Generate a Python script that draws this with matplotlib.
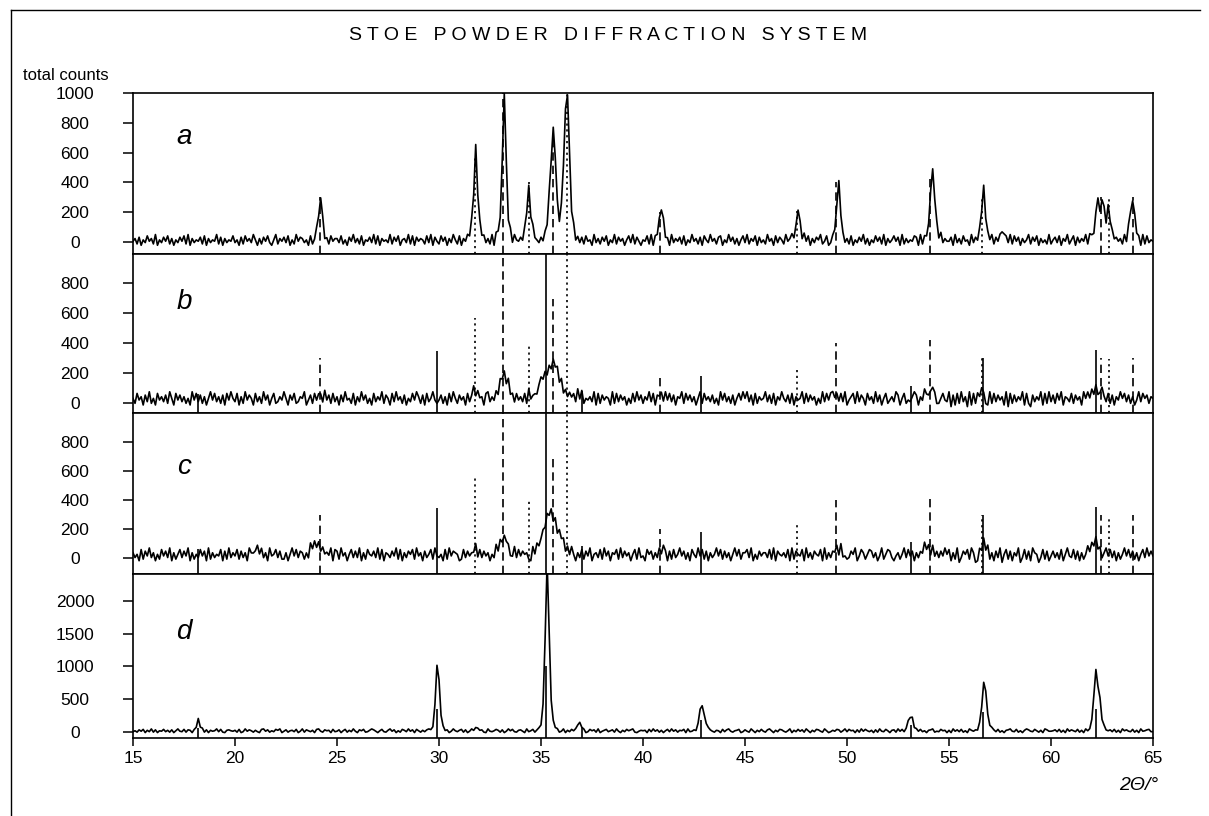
import numpy as np
import matplotlib
matplotlib.use('Agg')
import matplotlib.pyplot as plt
from matplotlib.lines import Line2D

plt.rcParams['font.family'] = ['Liberation Sans', 'DejaVu Sans']

# scan grid: 2theta from 15 to 65 deg in 0.1 deg steps
tt_start = 15.0
tt_step = 0.1
n_points = 501

# background noise, one digit per step (0..9 around 4.5)
noise_a = ("46271538462915374826153748291635472816354927163548"
           "35172846395162748315926473815294763518249637152846"
           "63825174936281547392816453927481563928174652839174"
           "28471639528164739251847362918547362819547263819453"
           "71538294617352849163728451936274815392746158392741"
           "54829163748251936472815394627185394627815394726158"
           "39264817352946183752946813572948163759248136597241"
           "62815374926153847291635847192635487192634581729364"
           "47193628451937264815392746158392847163592748163529"
           "25738164925817364928517346928153746291853746192835"
           "4")
noise_b = ("52846173925184637295184736251948372615948362718495"
           "38162947518362947158236495174823659147283651947283"
           "61739452816394725183649275183946271538496271835942"
           "47261839527461835927461893526174839251746382915647"
           "83516274938152647391825463918274651928374615283947"
           "26493817562948371659284736159284637251948362715849"
           "59371826459372816495372816459283746152938476152839"
           "14682937518462937158246397158243697152843697125843"
           "90718293609182736501928374619082736491820736491829"
           "37284916538274619583726149538271649583726149385726"
           "5")
noise_c = ("63518274936152847391625837491625384719263548172936"
           "48273619545837261945837226159483762519483726354918"
           "72946158373916285473928165374928163758294617358294"
           "35182947651283746592837461529384756129384756219384"
           "56274938164827395163827491563829471658293746158293"
           "41857263948617283594726185394827163594827361594826"
           "68391527466382917546381927548193627548192637581924"
           "23759148625873614925873146259384716253947182637495"
           "81629037582960173849261739058271649038271965038271"
           "47362815943827162594837261594837162594837261583947"
           "4")
noise_d = ("35274816392715483627159438276154938271645938216754"
           "62813947526318947253869147256381492753618942756183"
           "47158263941758236974158326947152863947185263794125"
           "83627149536827149358672194358627149583267419358276"
           "29416385724916385792461385729146835729416385792146"
           "56183947261583947265819347265138974265183794256813"
           "74295163842795163874259163847295163874295136487259"
           "38561729485361729438516729483561927483516792438561"
           "61947382519647382561497382516794382516974385261974"
           "45738261947538261954783261945738261957438261945783"
           "3")

# peak counts above background: (start angle, counts at successive 0.1 deg steps)
peaks_a = [
    (23.9, [15, 50, 150, 300, 140, 45, 15]),
    (31.4, [20, 45, 110, 330, 640, 340, 110, 40, 15]),
    (32.8, [25, 60, 160, 520, 1000, 520, 160, 55, 20]),
    (34.1, [25, 80, 200, 340, 190, 70, 25]),
    (35.1, [30, 60, 120, 300, 560, 720, 560, 260, 160, 230, 520, 880, 1000,
            560, 200, 80, 35, 15]),
    (40.6, [20, 55, 130, 210, 120, 45, 15]),
    (47.3, [15, 50, 120, 200, 110, 35, 10]),
    (49.3, [25, 70, 200, 380, 190, 60, 20]),
    (53.8, [20, 45, 120, 330, 450, 310, 110, 40, 15]),
    (56.4, [25, 75, 200, 340, 180, 60, 20]),
    (57.5, [30, 90, 40]),
    (61.9, [15, 35, 80, 170, 300, 200, 260, 190, 140, 210, 160, 70, 25]),
    (63.7, [25, 80, 190, 280, 160, 55, 20]),
]
peaks_b = [
    (24.0, [10, 20, 30, 20, 10]),
    (31.6, [20, 40, 50, 30, 15]),
    (32.6, [10, 20, 40, 70, 110, 140, 150, 120, 90, 60, 35, 20, 10]),
    (34.4, [20, 40, 20]),
    (34.7, [20, 40, 70, 110, 150, 180, 200, 210, 230, 240, 220, 170, 130, 100,
            80, 60, 45, 30, 20, 10]),
    (36.8, [20, 40, 20]),
    (40.8, [15, 30, 15]),
    (49.2, [15, 35, 50, 35, 15]),
    (53.6, [10, 20, 30, 40, 45, 40, 30, 20, 10]),
    (56.4, [15, 35, 60, 40, 20]),
    (61.8, [10, 25, 40, 60, 80, 70, 50, 30, 15]),
]
peaks_c = [
    (20.8, [10, 20, 25, 30, 25, 20, 10]),
    (23.5, [10, 20, 35, 50, 60, 70, 65, 55, 40, 25, 15, 5]),
    (31.7, [15, 30, 15]),
    (32.7, [10, 25, 45, 70, 95, 110, 90, 60, 35, 20, 10]),
    (34.6, [10, 25, 45, 70, 110, 160, 220, 260, 280, 270, 250, 220, 190, 160,
            120, 80, 55, 35, 20, 10]),
    (40.9, [15, 30, 15]),
    (49.4, [15, 30, 40, 30, 15]),
    (53.5, [10, 20, 30, 40, 45, 45, 40, 30, 20, 10]),
    (56.5, [20, 50, 80, 40, 20]),
    (61.8, [15, 30, 50, 80, 100, 70, 40, 20, 10]),
]
peaks_d = [
    (18.0, [20, 60, 160, 70, 20]),
    (29.6, [25, 90, 420, 1000, 760, 250, 70, 25]),
    (31.7, [20, 50, 20]),
    (34.9, [40, 110, 380, 1400, 2600, 1500, 480, 140, 50, 20]),
    (36.7, [20, 60, 150, 60, 20]),
    (42.6, [25, 110, 330, 410, 260, 90, 25]),
    (52.9, [40, 150, 230, 180, 70, 20]),
    (56.4, [25, 110, 380, 740, 600, 280, 90, 25]),
    (61.9, [40, 160, 520, 950, 700, 500, 200, 60, 20]),
]

# reference line patterns (2theta, counts)
hematite_pos = [24.15, 33.15, 35.6, 40.85, 49.45, 54.05, 62.45, 64.0]
hematite_int = [300, 1000, 690, 200, 400, 420, 300, 300]
zno_pos = [31.77, 34.42, 36.25, 47.54, 56.6, 62.86]
zno_int = [565, 400, 1000, 230, 300, 290]
spinel_pos = [18.2, 29.92, 35.26, 37.0, 42.84, 53.14, 56.66, 62.22]
spinel_int = [60, 345, 1000, 80, 180, 110, 300, 350]


def build_trace(noise, base, amp, peaks):
    assert len(noise) == n_points
    y = base + (np.array([int(c) for c in noise], dtype=float) - 4.5) * amp
    for start, vals in peaks:
        i0 = int(round((start - tt_start) / tt_step))
        y[i0:i0 + len(vals)] += vals
    return y


two_theta = tt_start + tt_step * np.arange(n_points)

panels = [
    dict(label='a', y=build_trace(noise_a, 10, 9, peaks_a), ylim=(-80, 1000),
         yticks=[0, 200, 400, 600, 800, 1000], sticks=['hem', 'zno'],
         rect=[0.1100, 0.68873, 0.8437, 0.19730], ly=0.727),
    dict(label='b', y=build_trace(noise_b, 25, 11, peaks_b), ylim=(-67, 993),
         yticks=[0, 200, 400, 600, 800], sticks=['hem', 'zno', 'sp'],
         rect=[0.1100, 0.49387, 0.8437, 0.19485], ly=0.698),
    dict(label='c', y=build_trace(noise_c, 20, 11, peaks_c), ylim=(-110, 1000),
         yticks=[0, 200, 400, 600, 800], sticks=['hem', 'zno', 'sp'],
         rect=[0.1100, 0.29657, 0.8437, 0.19730], ly=0.665),
    dict(label='d', y=build_trace(noise_d, 15, 7, peaks_d), ylim=(-92, 2412),
         yticks=[0, 500, 1000, 1500, 2000], sticks=['sp'],
         rect=[0.1100, 0.09559, 0.8437, 0.20098], ly=0.646),
]

stick_sets = {
    'hem': (hematite_pos, hematite_int, (0, (5, 3))),
    'zno': (zno_pos, zno_int, (0, (1.3, 2.2))),
    'sp': (spinel_pos, spinel_int, 'solid'),
}

fig = plt.figure(figsize=(12.09, 8.16), dpi=100)

for i, p in enumerate(panels):
    ax = fig.add_axes(p['rect'])
    ax.set_xlim(15, 65)
    ax.set_ylim(*p['ylim'])
    for key in p['sticks']:
        pos, ints, ls = stick_sets[key]
        ax.vlines(pos, p['ylim'][0], ints, colors='black', linestyles=ls,
                  linewidth=1.2, zorder=2)
    ax.plot(two_theta, p['y'], color='black', lw=1.2, zorder=3)

    for s in ax.spines.values():
        s.set_linewidth(1.2)
    ax.set_yticks(p['yticks'])
    ax.tick_params(axis='y', direction='out', length=7.2, width=1.1,
                   pad=34.6, labelsize=12.5)
    for t in ax.get_yticklabels():
        t.set_horizontalalignment('center')

    if i == len(panels) - 1:
        ax.set_xticks(range(15, 66, 5))
        ax.tick_params(axis='x', direction='out', length=5.5, width=1.1,
                       pad=3.6, labelsize=12.5)
    else:
        ax.tick_params(axis='x', bottom=False, labelbottom=False)

    ax.text(0.05, p['ly'], p['label'], transform=ax.transAxes, fontsize=20,
            style='italic', ha='center', va='center')

title = '   '.join(' '.join(w) for w in 'STOE POWDER DIFFRACTION SYSTEM'.split())
fig.text(608 / 1209, 1 - 36 / 816, title, ha='center', va='center', fontsize=14)
fig.text(66 / 1209, 1 - 75 / 816, 'total counts', ha='center', va='center',
         fontsize=12)
fig.text(1139 / 1209, 1 - 786 / 816, '2Θ/°', ha='center', va='center',
         fontsize=14, style='italic')

# scanned page frame
fig.add_artist(Line2D([11 / 1209, 11 / 1209], [0, 1 - 10 / 816], color='black', lw=1.0))
fig.add_artist(Line2D([11 / 1209, 1200 / 1209], [1 - 10 / 816, 1 - 10 / 816],
                      color='black', lw=1.0))

fig.savefig('out.png', dpi=100, facecolor='white')
